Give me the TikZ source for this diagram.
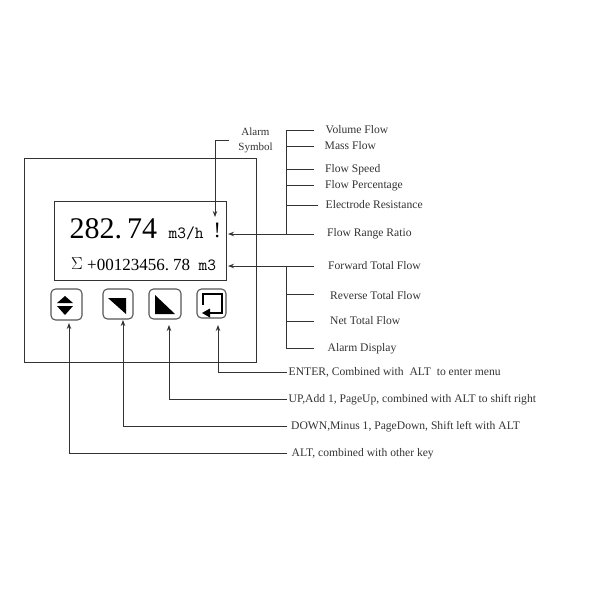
\documentclass[tikz,border=0pt]{standalone}
\usepackage{fontspec}
\setmainfont{Liberation Serif}
\usetikzlibrary{arrows.meta}
\definecolor{c333333}{RGB}{51,51,51}
\definecolor{c555555}{RGB}{85,85,85}
\tikzset{
  pointer/.style={-{Stealth[length=6pt,width=4.5pt]},line width=0.9pt,color=c333333},
  tick/.style={line width=0.9pt,color=c333333},
  keybox/.style={draw=c555555,line width=1.1pt,rounded corners=4.5pt,inner sep=0pt}
}

\begin{document}
\begin{tikzpicture}[x=1pt,y=-1pt]

\useasboundingbox (0,0) rectangle (600,600);

% housing and display
\draw[line width=0.9pt,color=c333333] (24,158) rectangle (256,362);
\draw[line width=0.9pt,color=c333333] (54,201) rectangle (226,280);

\begin{scope}[every node/.style={anchor=west,inner sep=0pt,color=black}]
\node[font=\fontsize{30}{30}\selectfont] (value) at (69.5,228.5) {282.\hspace{5pt}74};
\node[font=\ttfamily\fontsize{17}{17}\selectfont] (unit) at (168.5,233) {m3/h};
\node[font=\fontsize{22}{22}\selectfont] (mark) at (213.5,230) {!};
\node[font=\fontsize{17}{17}\selectfont] (sigma) at (71,264) {$\Sigma$};
\node[font=\fontsize{17}{17}\selectfont] (total) at (87,264.5) {+00123456.\hspace{4pt}78};
\node[font=\ttfamily\fontsize{17}{17}\selectfont] (totalunit) at (198.5,265) {m3};
\end{scope}

% keys
\node[keybox,minimum width=31pt,minimum height=31pt] (altkey) at (66.5,304.5) {};
\node[keybox,minimum width=30pt,minimum height=30pt] (downkey) at (118,304) {};
\node[keybox,minimum width=32pt,minimum height=30pt] (upkey) at (165,304) {};
\node[keybox,minimum width=29pt,minimum height=29pt] (enterkey) at (211.5,303.5) {};

\fill[black] (65,296) -- (73,303) -- (57,303) -- cycle;
\fill[black] (65,315) -- (73,306) -- (57,306) -- cycle;
\fill[black] (108,298) -- (126,298) -- (126,314) -- cycle;
\fill[black] (155,295) -- (155,314) -- (175,314) -- cycle;
\draw[line width=2pt,color=black] (203,305) -- (203,294) -- (222,294) -- (222,313) -- (208,313);
\fill[black] (202,313) -- (210,308.5) -- (210,317.5) -- cycle;

\coordinate (alarmtip) at (215,217);
\coordinate (ratiotip) at (228,234);
\coordinate (forwardtip) at (228,266);
\coordinate (altkeytip) at (69,323);
\coordinate (downkeytip) at (123,320);
\coordinate (upkeytip) at (169,325);
\coordinate (enterkeytip) at (218,325);

\node[font=\fontsize{11}{14.5}\selectfont,align=center,inner sep=0pt,color=c333333] (alarm) at (255.5,140.5) {Alarm\\Symbol};

% function labels
\begin{scope}[every node/.style={anchor=west,inner sep=0pt,text height=9pt,text depth=2pt,color=c333333,font=\fontsize{11.6}{11.6}\selectfont}]
\node (volume) at (325.5,130) {Volume Flow};
\node (mass) at (324.5,146) {Mass Flow};
\node (speed) at (325,169) {Flow Speed};
\node (percent) at (325,185) {Flow Percentage};
\node (resist) at (325.5,205) {Electrode Resistance};
\node[text height=7.5pt,text depth=3.5pt] (ratio) at (327,234) {Flow Range Ratio};
\node (forward) at (328,266) {Forward Total Flow};
\node[text height=11pt,text depth=1pt] (reverse) at (330,294) {Reverse Total Flow};
\node (net) at (330,321) {Net Total Flow};
\node (display) at (327.5,348) {Alarm Display};
\node (enter) at (288.5,372) {ENTER, Combined with\ \ ALT\ \ to enter menu};
\node (up) at (288.5,399) {UP,Add 1, PageUp, combined with ALT to shift right};
\node (down) at (291,426) {DOWN,Minus 1, PageDown, Shift left with ALT};
\node (alt) at (291.5,453) {ALT, combined with other key};
\end{scope}

% brackets
\coordinate (volumebus) at (286,130);
\coordinate (massbus) at (286,146);
\coordinate (speedbus) at (286,169);
\coordinate (percentbus) at (286,185);
\coordinate (resistbus) at (286,205);
\coordinate (ratiobus) at (286,234);
\coordinate (forwardbus) at (286,266);
\coordinate (reversebus) at (286,294);
\coordinate (netbus) at (286,321);
\coordinate (displaybus) at (286,348);

\draw[tick] (volumebus) -- (ratiobus);
\draw[tick] (forwardbus) -- (displaybus);
\draw[tick,shorten >=11.5pt] (volumebus) -- (volume.west);
\draw[tick,shorten >=10.5pt] (massbus) -- (mass.west);
\draw[tick,shorten >=11pt] (speedbus) -- (speed.west);
\draw[tick,shorten >=11pt] (percentbus) -- (percent.west);
\draw[tick,shorten >=7.5pt] (resistbus) -- (resist.west);
\draw[tick,shorten >=16pt] (reversebus) -- (reverse.west);
\draw[tick,shorten >=16pt] (netbus) -- (net.west);
\draw[tick,shorten >=13.5pt] (displaybus) -- (display.west);

% pointers
\draw[pointer,shorten <=13pt] (ratio.west) -- (ratiotip);
\draw[pointer,shorten <=14pt] (forward.west) -- (forwardtip);
\draw[pointer,shorten <=9pt] (alarm.west) -| (alarmtip);
\draw[pointer,shorten <=1.5pt] (enter.west) -| (enterkeytip);
\draw[pointer,shorten <=1.5pt] (up.west) -| (upkeytip);
\draw[pointer,shorten <=4pt] (down.west) -| (downkeytip);
\draw[pointer,shorten <=4.5pt] (alt.west) -| (altkeytip);

\end{tikzpicture}
\end{document}
